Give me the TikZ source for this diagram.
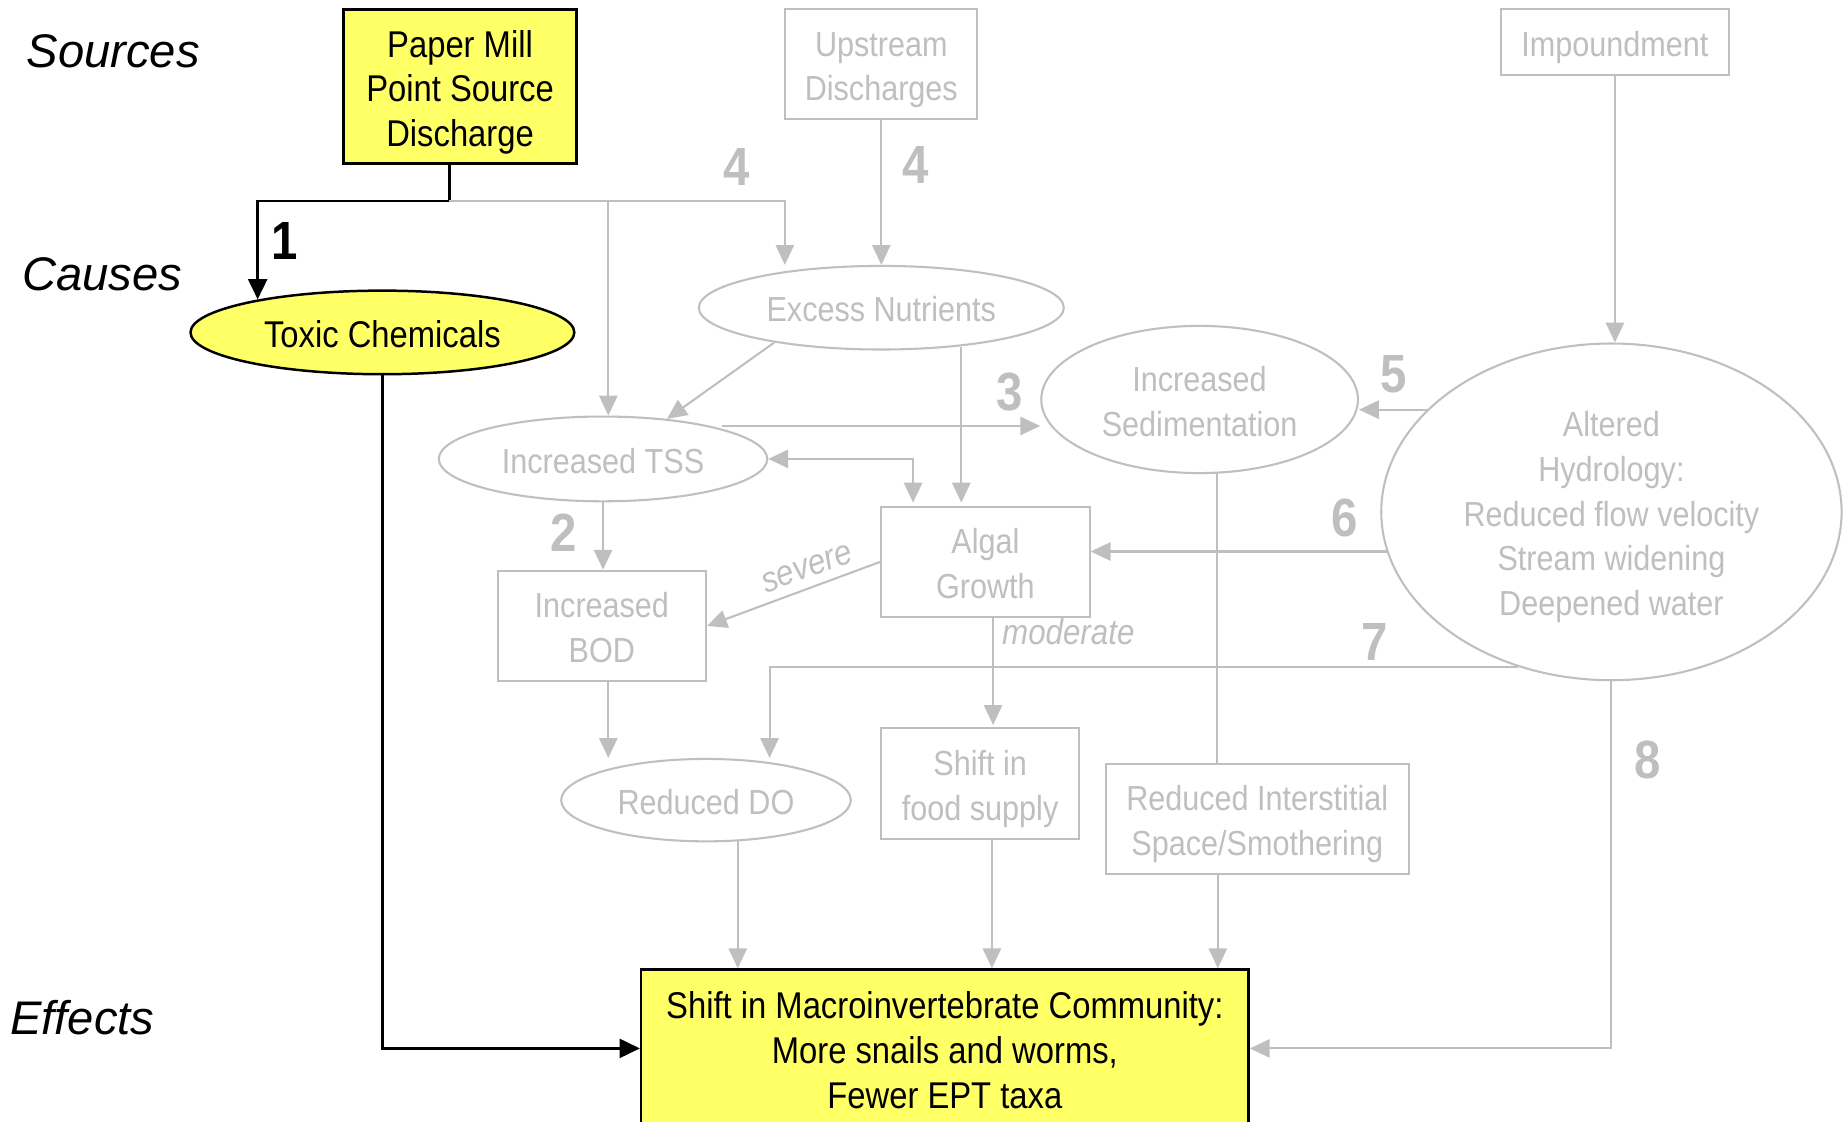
\documentclass[tikz,border=0pt]{standalone}
\usepackage{fontspec}
\setmainfont{Liberation Sans}
\newfontfamily\nf[FakeStretch=0.88]{Liberation Sans}
\usetikzlibrary{arrows.meta,calc,shapes.geometric}
\definecolor{ylw}{HTML}{FFFF66}
\definecolor{lgr}{HTML}{BFBFBF}
% centred stack of lines; the optional height pads the first row so the
% block sits optically centred inside its frame
\newcommand\ntext[2][10.14pt]{\begin{tabular}{@{}c@{}}\rule{0pt}{#1}#2\end{tabular}}
\newcommand\ytext[1]{\ntext[10.58pt]{#1}}
\begin{document}
\begin{tikzpicture}[x=0.01cm,y=-0.01cm,
  gtip/.tip={Triangle[length=4.8pt,width=4.4pt]},
  btip/.tip={Triangle[length=4.9pt,width=4.6pt]},
  greybox/.style={rectangle,inner sep=0pt,draw=lgr,line width=0.5pt,text=lgr,
    font=\nf\fontsize{8.4}{10.8}\selectfont},
  greyell/.style={greybox,ellipse},
  yelbox/.style={rectangle,inner sep=0pt,draw=black,fill=ylw,line width=0.6pt,
    font=\nf\fontsize{9}{10.8}\selectfont},
  yelell/.style={yelbox,ellipse},
  link/.style={draw=lgr,line width=0.5pt,-gtip},
  dlink/.style={draw=lgr,line width=0.5pt,gtip-gtip},
  plainlink/.style={draw=lgr,line width=0.5pt},
  blink/.style={draw=black,line width=0.6pt,-btip},
  num/.style={inner sep=0pt,text=lgr,font=\nf\bfseries\fontsize{13}{13}\selectfont},
  tier/.style={inner sep=0pt,anchor=base west,font=\itshape\fontsize{11.4}{12}\selectfont},
  note/.style={inner sep=0pt,text=lgr,font=\nf\itshape\fontsize{8.6}{10}\selectfont}
]
\useasboundingbox[fill=white] (0,0) rectangle (1568,953);

% tier headings
\node[tier] (lsrc) at (22,57) {Sources};
\node[tier] (lcau) at (18,247) {Causes};
\node[tier] (leff) at (8,879) {Effects};

% sources
\node[yelbox,minimum width=1.98cm,minimum height=1.31cm] (pm) at (391,73.5) {\ytext{Paper Mill\\Point Source\\Discharge}};
\node[greybox,minimum width=1.63cm,minimum height=0.93cm] (up) at (749,54.5) {\ntext{Upstream\\Discharges}};
\node[greybox,minimum width=1.93cm,minimum height=0.56cm] (imp) at (1372.5,36) {\ntext{Impoundment}};

% causes
\node[yelell,minimum width=3.26cm,minimum height=0.71cm] (tc) at (325,282.5) {\ytext{Toxic Chemicals}};
\node[greyell,minimum width=3.10cm,minimum height=0.71cm] (en) at (749,261.5) {\ntext{Excess Nutrients}};
\node[greyell,minimum width=2.69cm,minimum height=1.25cm] (sed) at (1019.5,339.5) {\ntext{Increased\\Sedimentation}};
\node[greyell,minimum width=3.91cm,minimum height=2.86cm] (alt) at (1369.5,435) {\ntext{Altered\\Hydrology:\\Reduced flow velocity\\Stream widening\\Deepened water}};
\node[greyell,minimum width=2.79cm,minimum height=0.72cm] (tss) at (512.5,390) {\ntext{Increased TSS}};
\node[greybox,minimum width=1.77cm,minimum height=0.93cm] (ag) at (837.5,477.5) {\ntext{Algal\\Growth}};
\node[greybox,minimum width=1.77cm,minimum height=0.94cm] (bod) at (511.5,532) {\ntext{Increased\\BOD}};
\node[greyell,minimum width=2.46cm,minimum height=0.70cm] (rdo) at (600,680) {\ntext{Reduced DO}};
\node[greybox,minimum width=1.68cm,minimum height=0.94cm] (fs) at (833,666) {\ntext{Shift in\\food supply}};
\node[greybox,minimum width=2.57cm,minimum height=0.94cm] (ri) at (1068.5,696) {\ntext{Reduced Interstitial\\Space/Smothering}};

% effect
\node[yelbox,minimum width=5.16cm,minimum height=1.34cm] (fx) at (803,891) {\ytext{Shift in Macroinvertebrate Community:\\More snails and worms,\\Fewer EPT taxa}};

% junctions below the paper mill
\coordinate (j0) at (382,171);
\coordinate (j1) at (219,171);
\coordinate (j2) at (667,171);
\coordinate (j3) at (517,171);

% pathway 1 (toxic chemicals)
\draw[blink] (pm.south -| j0) -- (j0) -- (j1) -- (j1 |- tc.165);
\draw[blink] (tc.south) |- (fx.west);

% nutrient and sediment pathways
\draw[link] (j0) -- (j2) -- (j2 |- en.north);
\draw[link] (j3) -- (j3 |- tss.north);
\draw[link] (up) -- (en);
\draw[link] (en.198) -- (tss.32);
\draw[link] ($(en.south)+(68,-3)$) -- ($(ag.north)+(-20.5,-3)$);
\coordinate (t3) at ($(tss.east)+(-39,-28)$);
\draw[link] (t3) -- (t3 -| sed.west);
\draw[dlink] (tss.east) -| ($(ag.north)+(-61.5,-3)$);
\draw[link] (tss.south) -- (tss.south |- bod.north);
\draw[link] (ag.west) -- (bod.east);
\draw[link] ($(ag.south)+(6.5,0)$) -- ($(fs.north)+(11,-2)$);
\draw[link] ($(bod.south)+(5.5,0)$) -- ($(rdo.north)+(-83,0)$);

% hydrology pathways
\draw[link] (imp.south) -- (imp.south |- alt.north);
\draw[link] (alt.151) -- (alt.151 -| sed.east);
\draw[link] (alt.190.5) -- (alt.190.5 -| ag.east);
\draw[link] (alt.239) -| ($(rdo.north)+(54,0)$);
\draw[plainlink] ($(sed.south)+(14.5,-1)$) -- ($(ri.north)+(-34.5,0)$);
\draw[link] (alt.south) |- (fx.east);

% into the effect
\draw[link] ($(rdo.south)+(27,-1)$) -- ($(fx.north)+(-176,0)$);
\draw[link] ($(fs.south)+(10,0)$) -- ($(fx.north)+(40,0)$);
\draw[link] ($(ri.south)+(-33.5,0)$) -- ($(fx.north)+(232,0)$);

% edge labels
\node[note,rotate=20] (sev) at (686,483) {severe};
\node[note,anchor=west] (mod) at (851,537) {moderate};

% pathway numbers
\node[inner sep=0pt,font=\nf\bfseries\fontsize{13}{13}\selectfont] (n1) at (242,205) {1};
\node[num] (n2) at (479,453) {2};
\node[num] (n3) at (858,333) {3};
\node[num] (n4a) at (626,142) {4};
\node[num] (n4b) at (778,140) {4};
\node[num] (n5) at (1184,318) {5};
\node[num] (n6) at (1143,440) {6};
\node[num] (n7) at (1168,546) {7};
\node[num] (n8) at (1400,646) {8};
\end{tikzpicture}
\end{document}
